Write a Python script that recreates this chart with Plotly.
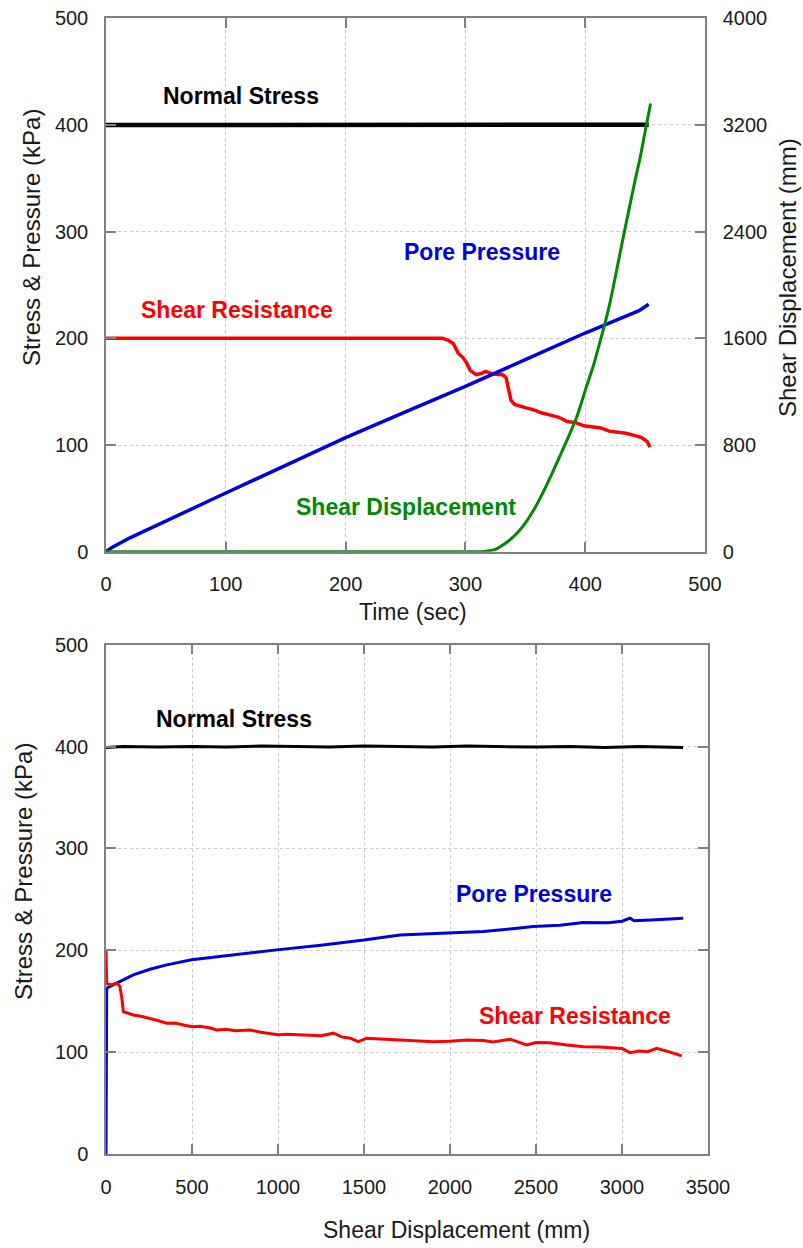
import plotly.graph_objects as go

W, H = 803, 1248

# ---------------- Top panel: histories vs time ----------------
time_normal = [0, 100, 200, 250, 280, 300, 320, 340, 360, 380, 400, 420, 440, 453]
normal_top = [400, 400, 400, 400.2, 399.6, 400.4, 399.7, 400.5, 399.8, 400.6, 399.9, 400.5, 400.0, 400.2]

time_pore = [0, 5, 20, 50, 100, 150, 200, 250, 300, 350, 400, 430, 445, 453]
pore_top = [0, 4, 13, 29, 55, 81, 107, 131, 155, 180, 205, 219, 226, 232]

time_shear = [0, 281, 286, 290, 294, 298, 301, 304, 309, 313, 317, 322, 327, 331, 334, 336, 338,
              341, 345, 350, 357, 364, 371, 378, 385, 392, 399, 406, 413, 420, 427, 434, 441,
              447, 452, 454]
shear_top = [200, 200, 198, 195, 186, 182, 177, 170, 166, 167, 169, 167, 166, 166, 163, 152, 142,
             138, 137, 135, 133, 130, 128, 126, 122, 121, 118, 117, 116, 113, 112, 111, 109,
             107, 103, 98]

time_disp = [0, 300, 312, 316, 320, 325, 329, 336, 343, 350, 357, 364, 371, 378, 385, 393, 401,
             407, 412, 417, 421, 424, 430, 437, 442, 446, 451, 454.6]
disp_top = [0, 0, 0, 2, 7, 18, 37, 80, 138, 215, 312, 430, 562, 700, 840, 1012, 1237,
            1400, 1562, 1730, 1880, 2010, 2280, 2586, 2800, 2961, 3198, 3361]

# ---------------- Bottom panel: stresses vs displacement ----------------
disp_normal = [0, 100, 300, 500, 700, 900, 1100, 1300, 1500, 1700, 1900, 2100, 2300, 2500,
               2700, 2900, 3100, 3250, 3355]
normal_bot = [399, 400, 399.5, 400, 399.5, 400.5, 400, 399.5, 400.5, 400, 399.5, 400.5, 400,
              399.5, 400, 399, 400, 399.5, 399]

disp_pore = [0, 0, 0, 4, 30, 62, 110, 159, 256, 353, 498, 740, 992, 1250, 1500, 1709, 1950,
             2194, 2350, 2484, 2640, 2775, 2920, 3000, 3047, 3070, 3200, 3356]
pore_bot = [0, 80, 158, 162.7, 165, 167.6, 172, 175.8, 181.4, 185.7, 190.6, 195.5, 200.4, 205,
            210, 215, 217, 218.4, 221, 223.3, 224.5, 227.2, 227, 228.5, 231.5, 229, 230, 231.5]

disp_shear = [0, 0, 4, 30, 62, 80, 91, 101, 130, 159, 210, 256, 300, 353, 400, 450, 500, 546,
              600, 643, 700, 750, 837, 900, 934, 1000, 1050, 1128, 1200, 1250, 1322, 1370, 1419,
              1467, 1516, 1600, 1709, 1800, 1903, 2000, 2097, 2194, 2250, 2349, 2400, 2446,
              2500, 2581, 2680, 2775, 2870, 2969, 3000, 3047, 3100, 3150, 3202, 3280, 3347]
shear_bot = [200, 168, 167.6, 166, 167.6, 165, 154.5, 139.8, 138, 136.5, 135, 133.3, 131, 128.4,
             128.5, 126.7, 125, 125.5, 124, 121.8, 122.5, 121, 121.8, 119.5, 118.6, 117, 117.5,
             116.9, 117, 116, 118.6, 115, 113.7, 110.3, 113.7, 113, 112, 111, 110.3, 110.8, 112,
             111.5, 110, 112.7, 110, 107, 109.5, 109.3, 107, 105.4, 105, 103.8, 103.5, 99.5,
             101, 100.5, 103.8, 100, 96.3]

y_ticks = [0, 100, 200, 300, 400, 500]
disp_ticks = [0, 800, 1600, 2400, 3200, 4000]
time_ticks = [0, 100, 200, 300, 400, 500]
sd_ticks = [0, 500, 1000, 1500, 2000, 2500, 3000, 3500]

BLACK = "#000000"
BLUE = "#0000dd"
RED = "#ff0000"
GREEN = "#008a00"


def px_x(p):
    return p / W


def px_y(p):
    return (H - p) / H


fig = go.Figure()

fig.add_trace(go.Scatter(x=time_normal, y=normal_top, mode="lines", line=dict(color=BLACK, width=4.5),
                         xaxis="x", yaxis="y"))
fig.add_trace(go.Scatter(x=time_shear, y=shear_top, mode="lines", line=dict(color=RED, width=3.5),
                         xaxis="x", yaxis="y"))
fig.add_trace(go.Scatter(x=time_pore, y=pore_top, mode="lines", line=dict(color=BLUE, width=3.5),
                         xaxis="x", yaxis="y"))
fig.add_trace(go.Scatter(x=time_disp, y=disp_top, mode="lines",
                         line=dict(color=GREEN, width=3, shape="spline", smoothing=0.6),
                         xaxis="x", yaxis="y2"))

fig.add_trace(go.Scatter(x=disp_normal, y=normal_bot, mode="lines", line=dict(color=BLACK, width=3),
                         xaxis="x2", yaxis="y3"))
fig.add_trace(go.Scatter(x=disp_pore, y=pore_bot, mode="lines", line=dict(color=BLUE, width=3),
                         xaxis="x2", yaxis="y3"))
fig.add_trace(go.Scatter(x=disp_shear, y=shear_bot, mode="lines", line=dict(color=RED, width=3),
                         xaxis="x2", yaxis="y3"))

tick_font = dict(family="Liberation Sans, Arial, sans-serif", size=20, color="#1a1a1a")
axis_common = dict(
    showline=True, linecolor="#808080", linewidth=1.5,
    ticks="inside", ticklen=10, tickwidth=1.5, tickcolor="#808080",
    showgrid=True, gridcolor="#c8c8c8", griddash="dot", gridwidth=1,
    zeroline=False, tickfont=tick_font, automargin=False,
)

fig.update_layout(
    width=W, height=H,
    margin=dict(l=0, r=0, t=0, b=0),
    paper_bgcolor="white", plot_bgcolor="white",
    showlegend=False,
    template="none",
    xaxis=dict(domain=[px_x(106), px_x(705)], anchor="y", range=[0, 500], tickvals=time_ticks,
               mirror="ticks", ticklabelstandoff=14, **axis_common),
    yaxis=dict(domain=[px_y(551.7), px_y(18.3)], anchor="x", range=[0, 500], tickvals=y_ticks,
               mirror="ticks", ticklabelstandoff=12, **axis_common),
    yaxis2=dict(overlaying="y", side="right", anchor="x", range=[0, 4000], tickvals=disp_ticks,
                ticklabelstandoff=12, **{**axis_common, "showgrid": False}),
    xaxis2=dict(domain=[px_x(106), px_x(708)], anchor="y3", range=[0, 3500], tickvals=sd_ticks,
                mirror="ticks", ticklabelstandoff=14, **axis_common),
    yaxis3=dict(domain=[px_y(1154), px_y(644.7)], anchor="x2", range=[0, 500], tickvals=y_ticks,
                mirror="ticks", ticklabelstandoff=12, **axis_common),
)

title_font = dict(family="Liberation Sans, Arial, sans-serif", size=24, color="#1a1a1a")
label_font = dict(family="Liberation Sans, Arial, sans-serif", size=23)

annotations = [
    # axis titles
    dict(text="Stress & Pressure (kPa)", x=px_x(31), y=px_y(238), textangle=-90, font=title_font),
    dict(text="Shear Displacement (mm)", x=px_x(787), y=px_y(278), textangle=-90, font=title_font),
    dict(text="Time (sec)", x=px_x(413.5), y=px_y(612), font=dict(title_font, size=23)),
    dict(text="Stress & Pressure (kPa)", x=px_x(23), y=px_y(872), textangle=-90, font=title_font),
    dict(text="Shear Displacement (mm)", x=px_x(456), y=px_y(1230), font=dict(title_font, size=23)),
]
for a in annotations:
    a.update(xref="paper", yref="paper", showarrow=False, xanchor="center", yanchor="middle")

series_labels = [
    ("Normal Stress", 112.7, 427, "x", "y", BLACK),
    ("Pore Pressure", 314, 281, "x", "y", BLUE),
    ("Shear Resistance", 109, 226.5, "x", "y", RED),
    ("Shear Displacement", 250.8, 42, "x", "y", GREEN),
    ("Normal Stress", 747, 427, "x2", "y3", BLACK),
    ("Pore Pressure", 2488, 255, "x2", "y3", BLUE),
    ("Shear Resistance", 2727, 135, "x2", "y3", RED),
]
for text, xv, yv, xr, yr, col in series_labels:
    annotations.append(dict(text="<b>" + text + "</b>", x=xv, y=yv, xref=xr, yref=yr,
                            showarrow=False, xanchor="center", yanchor="middle",
                            font=dict(label_font, color=col)))

fig.update_layout(annotations=annotations)

fig.write_html("out.html")
